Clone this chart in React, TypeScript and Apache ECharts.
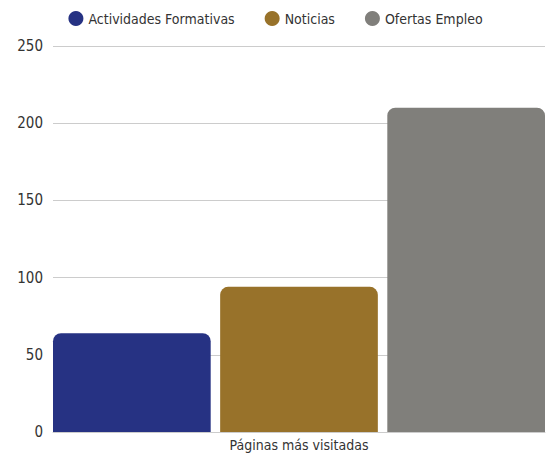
import React, { useEffect, useRef } from "react";
import * as echarts from "echarts";

const categories = ["Páginas más visitadas"];
const seriesNames = ["Actividades Formativas", "Noticias", "Ofertas Empleo"];
const seriesValues = [[64], [94], [210]];
const seriesColors = ["#263283", "#98722a", "#807f7b"];
const FONT = "'DejaVu Sans Condensed', sans-serif";

export default function App() {
  const ref = useRef<HTMLDivElement>(null);
  useEffect(() => {
    const chart = echarts.init(ref.current!, undefined, { renderer: "svg" });
    chart.setOption({
      animation: false,
      textStyle: { fontFamily: FONT },
      legend: {
        top: 6,
        left: "center",
        icon: "circle",
        itemWidth: 15,
        itemHeight: 15,
        itemGap: 30,
        textStyle: { fontSize: 14, color: "#333", fontFamily: FONT },
        data: seriesNames,
      },
      grid: { left: 53, right: 6, top: 46, bottom: 25, containLabel: false },
      xAxis: {
        type: "category",
        data: categories,
        axisTick: { show: false },
        axisLine: { lineStyle: { color: "#ccc" } },
        axisLabel: { fontSize: 14, color: "#333", margin: 6, fontFamily: FONT },
      },
      yAxis: {
        type: "value",
        min: 0,
        max: 250,
        interval: 50,
        axisLabel: { fontSize: 15, color: "#333", margin: 10, fontFamily: FONT },
        splitLine: { lineStyle: { color: "#ccc" } },
      },
      series: seriesNames.map((name, i) => ({
        name,
        type: "bar",
        data: seriesValues[i],
        barGap: "6%",
        barCategoryGap: "0%",
        itemStyle: { color: seriesColors[i], borderRadius: [8, 8, 0, 0] },
      })),
    });
    return () => chart.dispose();
  }, []);
  return <div ref={ref} style={{ width: 551, height: 457, position: "absolute", left: 0, top: 0 }} />;
}
